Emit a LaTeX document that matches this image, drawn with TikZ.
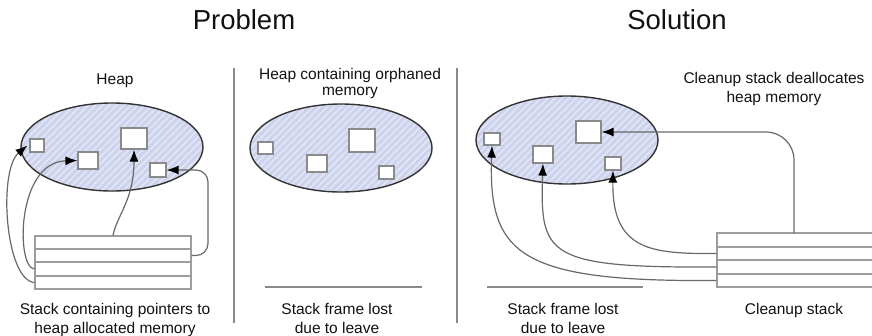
\documentclass[tikz,border=0pt]{standalone}
\usepackage{fontspec}
\setmainfont{Liberation Sans}
\usetikzlibrary{arrows.meta,patterns.meta}
\definecolor{heapc}{HTML}{CDD3EC}
\definecolor{stripec}{HTML}{E2E6F5}
\definecolor{boxc}{HTML}{8A8A8A}
\definecolor{linec}{HTML}{686868}
\definecolor{txt}{HTML}{111111}
\tikzset{
  heap/.style={fill=heapc},
  heapstripes/.style={pattern={Lines[angle=45,distance=5pt,line width=1.6pt]},pattern color=stripec},
  heapedge/.style={draw=black!80,line width=1.4pt},
  mbox/.style={draw=boxc,fill=white,line width=1.2pt,inner sep=0pt,rectangle},
  row/.style={draw=boxc!85,line width=1.1pt,inner sep=0pt,rectangle},
  conn/.style={draw=linec,line width=1.2pt,-{Latex[length=12pt,width=9pt,color=black]}},
  divider/.style={draw=boxc,line width=1.2pt},
  title/.style={font=\fontsize{27.5}{33}\selectfont,text=txt,anchor=base,inner sep=0pt},
  lbl/.style={font=\fontsize{15.5}{19}\selectfont,text=txt,anchor=base,align=center,inner sep=0pt},
}
\begin{document}
\begin{tikzpicture}[x=1pt,y=-1pt]
\useasboundingbox (0,0) rectangle (872,335);
% titles
\node[title] (t1) at (244,29) {Problem};
\node[title] (t2) at (677,29) {Solution};
% dividers
\draw[divider] (234,68) -- (234,323);
\draw[divider] (457,68) -- (457,323);
% heaps
\foreach \cx/\cy in {112/147, 341/148, 567/140}{
  \fill[heap] (\cx,\cy) ellipse [x radius=91pt, y radius=44pt];
  \fill[heapstripes] (\cx,\cy) ellipse [x radius=91pt, y radius=44pt];
  \draw[heapedge] (\cx,\cy) ellipse [x radius=91pt, y radius=44pt];
}
% panel 1 boxes
\node[mbox,minimum width=14,minimum height=13] (p1a) at (37,145.5) {};
\node[mbox,minimum width=20,minimum height=17] (p1b) at (88,160.5) {};
\node[mbox,minimum width=26,minimum height=21] (p1c) at (134,138.5) {};
\node[mbox,minimum width=16,minimum height=14] (p1d) at (158,170) {};
% panel 2 boxes
\node[mbox,minimum width=15,minimum height=12] (p2a) at (265.5,148) {};
\node[mbox,minimum width=20,minimum height=17] (p2b) at (317,163.5) {};
\node[mbox,minimum width=26,minimum height=23] (p2c) at (362,140.5) {};
\node[mbox,minimum width=15,minimum height=13] (p2d) at (386.5,172.5) {};
% panel 3 boxes
\node[mbox,minimum width=16,minimum height=12] (p3a) at (492,139) {};
\node[mbox,minimum width=20,minimum height=17] (p3b) at (543,154.5) {};
\node[mbox,minimum width=25,minimum height=22] (p3c) at (588.5,132) {};
\node[mbox,minimum width=16,minimum height=13] (p3d) at (613,163.5) {};
% panel 1 stack
\node[row,minimum width=156,minimum height=13] (r11) at (113,242.5) {};
\node[row,minimum width=156,minimum height=13] (r12) at (113,255.5) {};
\node[row,minimum width=156,minimum height=14] (r13) at (113,269) {};
\node[row,minimum width=156,minimum height=13] (r14) at (113,282.5) {};
% cleanup stack (runs off the right edge)
\node[row,minimum width=163,minimum height=14] (c1) at (798.5,240) {};
\node[row,minimum width=163,minimum height=13] (c2) at (798.5,253.5) {};
\node[row,minimum width=163,minimum height=14] (c3) at (798.5,267) {};
\node[row,minimum width=163,minimum height=13] (c4) at (798.5,280.5) {};
\coordinate (cs) at (794,233);
% lost stack frames
\draw[divider] (265,287) -- (422,287);
\draw[divider] (487,287) -- (643,287);
% panel 1 connectors
\draw[conn] (r14.west) .. controls (5,280) and (-2,170) .. ([xshift=-2pt]p1a.west);
\draw[conn] (r13.west) .. controls (16,268) and (16,162) .. (p1b.west);
\draw[conn] (r11.north) .. controls (117,215) and (134,200) .. (p1c.south);
\draw[conn,rounded corners=12pt] (r12.east) -- (208,255.5) -- (208,170) -- (p1d.east);
% panel 3 connectors
\draw[conn,rounded corners=28pt] (cs) |- (p3c.east);
\draw[conn] (c2.west) .. controls (650,254) and (612,250) .. (p3d.south);
\draw[conn] (c3.west) .. controls (545,268) and (540,255) .. (p3b.south);
\draw[conn] (c4.west) .. controls (520,282) and (488,255) .. (p3a.south);
% labels (base anchor = baseline of the last line)
\node[lbl] (l1) at (115,84) {Heap};
\node[lbl] (l2) at (350,95) {Heap containing orphaned\\[-3pt]memory};
\node[lbl] (l3) at (774,102) {Cleanup stack deallocates\\heap memory};
\node[lbl] (l4) at (115,333) {Stack containing pointers to\\heap allocated memory};
\node[lbl] (l5) at (337,333) {Stack frame lost\\due to leave};
\node[lbl] (l6) at (563,333) {Stack frame lost\\due to leave};
\node[lbl] (l7) at (794,314) {Cleanup stack};
\end{tikzpicture}
\end{document}
